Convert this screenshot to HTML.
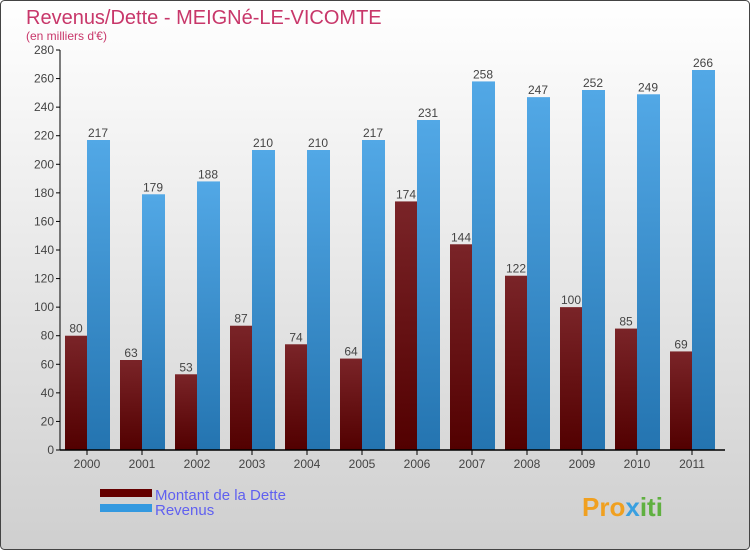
<!DOCTYPE html>
<html><head><meta charset="utf-8"><style>
body{margin:0}
#c{width:750px;height:550px;position:relative;overflow:hidden;font-family:"Liberation Sans",sans-serif}
</style></head><body>
<div id="c">
<svg id="s" width="750" height="550" xmlns="http://www.w3.org/2000/svg">
<defs>
<linearGradient id="bg" x1="0" y1="0" x2="0" y2="1"><stop offset="0" stop-color="#ffffff"/><stop offset="1" stop-color="#cfcfcf"/></linearGradient>
<linearGradient id="gd" x1="0" y1="0" x2="0" y2="1"><stop offset="0" stop-color="#7a2428"/><stop offset="1" stop-color="#520000"/></linearGradient>
<linearGradient id="gr" x1="0" y1="0" x2="0" y2="1"><stop offset="0" stop-color="#52a8e6"/><stop offset="1" stop-color="#2474b0"/></linearGradient>
</defs>
<rect x="0.5" y="0.5" width="749" height="549" rx="4" fill="url(#bg)" stroke="#444"/>
<text x="26" y="24" font-size="20" font-weight="300" fill="#c8376a">Revenus/Dette - MEIGNé-LE-VICOMTE</text>
<text x="26" y="40" font-size="12" fill="#c8376a">(en milliers d'€)</text>
<g id="bars"></g>
<g id="axes"></g>
<rect x="100" y="489" width="52" height="8" fill="#650000"/>
<text x="155" y="500" font-size="15" fill="#6060f0">Montant de la Dette</text>
<rect x="100" y="504" width="52" height="8" fill="#3399e0"/>
<text x="155" y="515" font-size="15" fill="#6060f0">Revenus</text>
<text x="582" y="516" font-size="26" font-weight="bold" fill="#f0a020">Pro<tspan fill="#3aa0e0">x</tspan><tspan fill="#60b040">iti</tspan></text>
</svg>
</div>
<script>
const years=["2000","2001","2002","2003","2004","2005","2006","2007","2008","2009","2010","2011"];
const dette=[80,63,53,87,74,64,174,144,122,100,85,69];
const revenus=[217,179,188,210,210,217,231,258,247,252,249,266];
const yTicks=[0,20,40,60,80,100,120,140,160,180,200,220,240,260,280];
const NS="http://www.w3.org/2000/svg";
const y0=450,yTop=50,yMax=280;
function yS(v){return y0-(v/yMax)*(y0-yTop);}
function xS(i){return 65+55*i;}
const bars=document.getElementById('bars'),axes=document.getElementById('axes');
function mk(t,a,p){const e=document.createElementNS(NS,t);for(const k in a)e.setAttribute(k,a[k]);p.appendChild(e);return e;}
years.forEach((yr,i)=>{
  const x=xS(i);
  let r=mk('rect',{x:x,y:yS(dette[i]),width:22,height:y0-yS(dette[i]),fill:'url(#gd)'},bars);
  
  
  let r2=mk('rect',{x:x+22,y:yS(revenus[i]),width:23,height:y0-yS(revenus[i]),fill:'url(#gr)'},bars);
  
  
  let t=mk('text',{x:x+11,y:yS(dette[i])-3,'font-size':12,fill:'#444','text-anchor':'middle'},bars);t.textContent=dette[i];
  
  
  let t2=mk('text',{x:x+33,y:yS(revenus[i])-3,'font-size':12,fill:'#444','text-anchor':'middle'},bars);t2.textContent=revenus[i];
  
  
  let tl=mk('text',{x:x+22,y:468,'font-size':12,fill:'#444','text-anchor':'middle'},axes);tl.textContent=yr;
  
  
  mk('line',{x1:x+22,x2:x+22,y1:450,y2:455,stroke:'#000'},axes);
});
yTicks.forEach(v=>{
  mk('line',{x1:56,x2:60,y1:yS(v),y2:yS(v),stroke:'#000'},axes);
  let t=mk('text',{x:54,y:yS(v)+4,'font-size':12,fill:'#444','text-anchor':'end'},axes);t.textContent=v;
  
  
});
let ya=mk('line',{x1:60,x2:60,y1:yTop,y2:y0,stroke:'#000'},axes);


let xa=mk('line',{x1:60,x2:725,y1:y0,y2:y0,stroke:'#000','stroke-width':1.5},axes);


</script>
</body></html>
